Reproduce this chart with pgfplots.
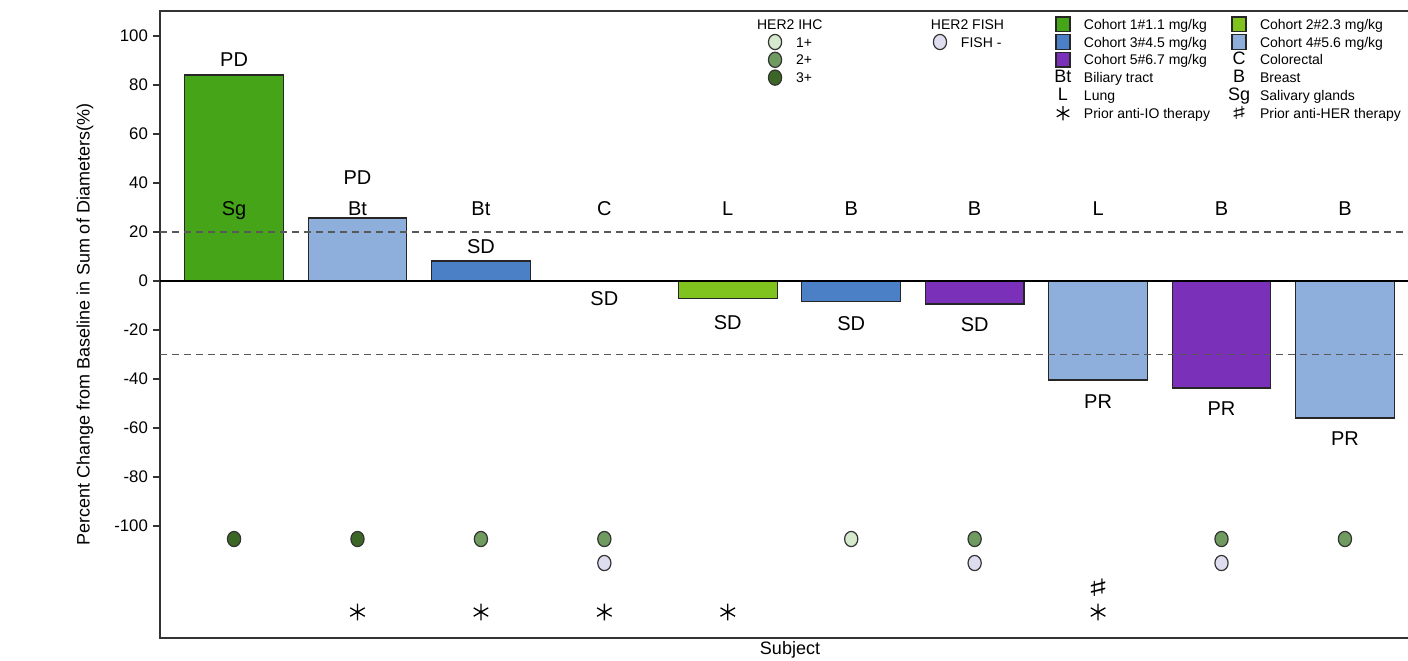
\documentclass[border=0pt]{standalone}
\usepackage{fontspec}
\setmainfont{Liberation Sans}
\newfontfamily\djv{DejaVu Sans}
\usepackage{graphicx}
\usepackage{pgfplots}
\pgfplotsset{compat=1.18}
\definecolor{cA}{HTML}{46A418}
\definecolor{cB}{HTML}{80C21E}
\definecolor{cC}{HTML}{4C80C6}
\definecolor{cD}{HTML}{8EAEDB}
\definecolor{cE}{HTML}{7A30B8}
\definecolor{ihcA}{HTML}{D5E9CD}
\definecolor{ihcB}{HTML}{6F9B61}
\definecolor{ihcC}{HTML}{3C6626}
\definecolor{fish}{HTML}{DDDDEF}
\newcommand{\legfont}{\fontsize{7}{8}\selectfont}
\newcommand{\labfont}{\fontsize{10}{12}\selectfont}
\newcommand{\sharpsym}[1]{\scalebox{1.9}[1]{\fontsize{#1}{#1}\selectfont\djv ♯}}
\newcommand{\cellbox}{\path[draw=none, fill=none] (0pt,-3.6pt) rectangle (14pt,4.6pt);}
\pgfplotsset{
  common/.style={at={(0,0)}, anchor=south west, scale only axis,
    width=629.5pt, height=313.5pt},
  mylegend/.style={legend style={draw=none, fill=none, inner sep=0pt, outer sep=0pt,
    row sep=0.7pt, column sep=0pt, font=\legfont, anchor=north west,
    nodes={inner sep=0pt, text height=5.5pt, text depth=1.5pt, anchor=west},
    /tikz/every odd column/.append style={column sep=3.5pt},
    /tikz/every even column/.append style={column sep=7.5pt}}},
  sq/.style={legend image code/.code={\cellbox
    \draw[fill=#1, draw=black!85, line width=0.8pt] (3.5pt,-3.2pt) rectangle (10.5pt,4.2pt);}},
  circ/.style={legend image code/.code={\cellbox
    \draw[fill=#1, draw=black!80, line width=0.6pt] (7pt,0.5pt) ellipse (3.3pt and 3.8pt);}},
  sym/.style={legend image code/.code={\cellbox
    \node[draw=none, fill=none, font=\fontsize{9}{10}\selectfont, inner sep=0pt, text height=6.5pt, text depth=0pt, anchor=base] at (7pt,-2pt) {#1};}},
  blank/.style={legend image code/.code={\cellbox}},
}
\begin{document}
\begin{tikzpicture}
\clip (-80pt,-11pt) rectangle (624pt,319pt);
\begin{axis}[common,
  xmin=0.4, xmax=10.6, ymin=-145.7, ymax=110.2,
  xtick=\empty, ytick={-100,-80,...,100},
  ytick pos=left, tick align=outside, major tick length=3.5pt,
  tick style={draw=black!80, line width=0.75pt},
  axis line style={draw=black!80, line width=0.75pt},
  /pgf/number format/assume math mode=true,
  yticklabel style={font=\fontsize{8.4}{10}\selectfont, xshift=1pt},
  ylabel={Percent Change from Baseline in Sum of Diameters(\%)},
  ylabel style={at={(axis description cs:-0.0596,0.5)}, anchor=center, rotate=0, font=\fontsize{9}{10}\selectfont},
  xlabel={Subject},
  xlabel style={at={(axis description cs:0.5004,-0.0191)}, anchor=center, font=\fontsize{9}{10}\selectfont},
  mylegend, legend columns=2,
  legend style={at={(0.7061,0.992)}},
  clip=false,
]
\addplot[ybar, bar width=0.8, bar shift=0pt, fill=cA, draw=black!85, line width=0.6pt, forget plot] coordinates {(1,84.1)};
\addplot[ybar, bar width=0.8, bar shift=0pt, fill=cD, draw=black!85, line width=0.6pt, forget plot] coordinates {(2,25.7) (8,-40.4) (10,-55.9)};
\addplot[ybar, bar width=0.8, bar shift=0pt, fill=cC, draw=black!85, line width=0.6pt, forget plot] coordinates {(3,8.2) (6,-8.2)};
\addplot[ybar, bar width=0.8, bar shift=0pt, fill=cB, draw=black!85, line width=0.6pt, forget plot] coordinates {(5,-7.3)};
\addplot[ybar, bar width=0.8, bar shift=0pt, fill=cE, draw=black!85, line width=0.6pt, forget plot] coordinates {(7,-9.4) (9,-43.7)};
\addplot[black, line width=0.75pt, forget plot] coordinates {(0.4,0) (10.6,0)};
\addplot[black!65, line width=0.6pt, dash pattern=on 3.5pt off 2.5pt, forget plot] coordinates {(0.4,20) (10.6,20)};
\addplot[black!65, line width=0.6pt, dash pattern=on 3.5pt off 2.5pt, forget plot] coordinates {(0.4,-30) (10.6,-30)};
% tumour type labels
\addplot[only marks, mark=none, forget plot, nodes near coords, point meta=explicit symbolic,
  every node near coord/.append style={anchor=base, font=\labfont, inner sep=0pt}]
  table[meta=lab] {
x y lab
1 26.9 Sg
2 26.9 Bt
3 26.9 Bt
4 26.9 C
5 26.9 L
6 26.9 B
7 26.9 B
8 26.9 L
9 26.9 B
10 26.9 B
};
% response labels
\addplot[only marks, mark=none, forget plot, nodes near coords, point meta=explicit symbolic,
  every node near coord/.append style={anchor=base, font=\labfont, inner sep=0pt}]
  table[meta=lab] {
x y lab
1 87.7 PD
2 39.5 PD
3 11.4 SD
4 -9.8 SD
5 -19.6 SD
6 -20.0 SD
7 -20.5 SD
8 -51.9 PR
9 -54.7 PR
10 -67.0 PR
};
% HER2 IHC markers
\addplot[only marks, mark=*, mark size=3.8pt, mark options={xscale=0.87, fill=ihcC, draw=black!80, line width=0.6pt}, forget plot] coordinates {(1,-105.3) (2,-105.3)};
\addplot[only marks, mark=*, mark size=3.8pt, mark options={xscale=0.87, fill=ihcB, draw=black!80, line width=0.6pt}, forget plot] coordinates {(3,-105.3) (4,-105.3) (7,-105.3) (9,-105.3) (10,-105.3)};
\addplot[only marks, mark=*, mark size=3.8pt, mark options={xscale=0.87, fill=ihcA, draw=black!80, line width=0.6pt}, forget plot] coordinates {(6,-105.3)};
% FISH markers
\addplot[only marks, mark=*, mark size=3.8pt, mark options={xscale=0.87, fill=fish, draw=black!80, line width=0.6pt}, forget plot] coordinates {(4,-115.1) (7,-115.1) (9,-115.1)};
% prior anti-HER
\addplot[only marks, mark=text, text mark={\sharpsym{12}}, forget plot] coordinates {(8,-125.3)};
% prior anti-IO
\addplot[only marks, mark=asterisk, mark size=4.2pt, mark options={black, line width=0.65pt}, forget plot] coordinates {(2,-135.1) (3,-135.1) (4,-135.1) (5,-135.1) (8,-135.1)};
% legend
\addlegendimage{sq=cA}\addlegendentry{Cohort 1\#1.1 mg/kg}
\addlegendimage{sq=cB}\addlegendentry{Cohort 2\#2.3 mg/kg}
\addlegendimage{sq=cC}\addlegendentry{Cohort 3\#4.5 mg/kg}
\addlegendimage{sq=cD}\addlegendentry{Cohort 4\#5.6 mg/kg}
\addlegendimage{sq=cE}\addlegendentry{Cohort 5\#6.7 mg/kg}
\addlegendimage{sym=C}\addlegendentry{Colorectal}
\addlegendimage{sym=Bt}\addlegendentry{Biliary tract}
\addlegendimage{sym=B}\addlegendentry{Breast}
\addlegendimage{sym=L}\addlegendentry{Lung}
\addlegendimage{sym=Sg}\addlegendentry{Salivary glands}
\addlegendimage{legend image code/.code={\cellbox
  \draw[black, line width=0.6pt] plot[mark=asterisk, mark size=3.6pt] coordinates {(7pt,0.5pt)};}}
\addlegendentry{Prior anti-IO therapy}
\addlegendimage{legend image code/.code={\cellbox
  \node[draw=none, fill=none, inner sep=0pt, text height=, text depth=, anchor=center] at (7pt,0.5pt) {\sharpsym{9}};}}
\addlegendentry{Prior anti-HER therapy}
\end{axis}
% HER2 IHC legend
\begin{axis}[common, hide axis, xmin=0, xmax=1, ymin=0, ymax=1, mylegend,
  legend style={at={(0.4774,0.992)}}]
\addplot[draw=none, forget plot] coordinates {(0.5,0.5)};
\addlegendimage{blank}\addlegendentry{\hspace*{-19.5pt}HER2 IHC}
\addlegendimage{circ=ihcA}\addlegendentry{1+}
\addlegendimage{circ=ihcB}\addlegendentry{2+}
\addlegendimage{circ=ihcC}\addlegendentry{3+}
\end{axis}
% HER2 FISH legend
\begin{axis}[common, hide axis, xmin=0, xmax=1, ymin=0, ymax=1, mylegend,
  legend style={at={(0.6084,0.992)}}]
\addplot[draw=none, forget plot] coordinates {(0.5,0.5)};
\addlegendimage{blank}\addlegendentry{\hspace*{-15pt}HER2 FISH}
\addlegendimage{circ=fish}\addlegendentry{FISH -}
\end{axis}
\end{tikzpicture}
\end{document}
